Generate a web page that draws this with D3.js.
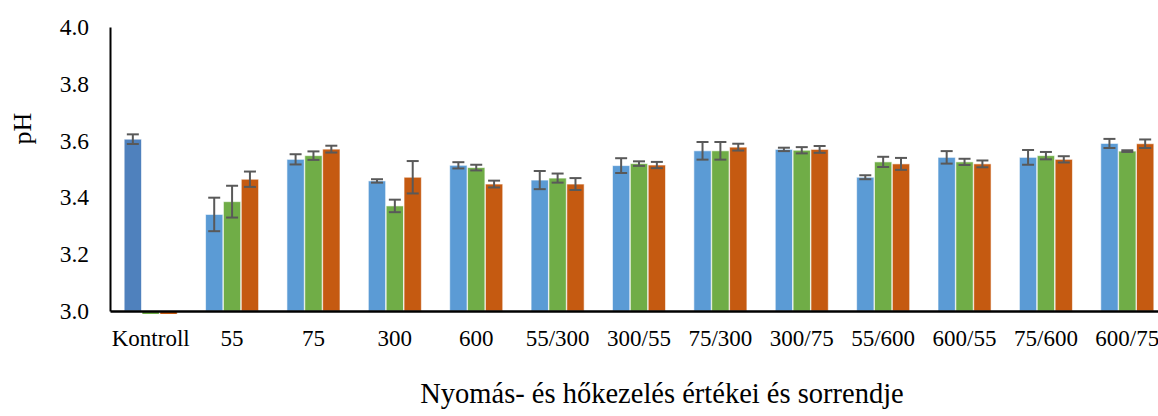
<!DOCTYPE html>
<html>
<head>
<meta charset="utf-8">
<script src="https://cdn.jsdelivr.net/npm/d3@7"></script>
<style>
  body { margin: 0; background: #fff; }
  text { font-family: "Liberation Serif", "Times New Roman", serif; fill: #000; }
</style>
</head>
<body>
<div id="chart-area"></div>
<script>
// categories and series (pH, three series + std dev)
var categories = ["Kontroll", "55", "75", "300", "600", "55/300", "300/55", "75/300", "300/75", "55/600", "600/55", "75/600", "600/75"];
var series1 = [3.605, 3.340, 3.534, 3.458, 3.513, 3.461, 3.512, 3.564, 3.569, 3.471, 3.541, 3.541, 3.590];
var series2 = [0, 3.385, 3.547, 3.370, 3.505, 3.468, 3.519, 3.564, 3.566, 3.525, 3.525, 3.547, 3.563];
var series3 = [0, 3.464, 3.570, 3.471, 3.447, 3.447, 3.514, 3.577, 3.569, 3.518, 3.518, 3.534, 3.589];
var err1 = [0.017, 0.059, 0.018, 0.006, 0.011, 0.032, 0.026, 0.031, 0.006, 0.007, 0.022, 0.026, 0.016];
var err2 = [0, 0.056, 0.015, 0.022, 0.010, 0.016, 0.008, 0.031, 0.011, 0.018, 0.011, 0.013, 0.003];
var err3 = [0, 0.027, 0.012, 0.057, 0.012, 0.021, 0.011, 0.012, 0.012, 0.021, 0.012, 0.011, 0.015];
var yTicks = [3.0, 3.2, 3.4, 3.6, 3.8, 4.0];

var colors = ["#5B9BD5", "#70AD47", "#C55A11"];
var kontrollColor = "#4F81BD";

var W = 1158, H = 416;
var margin = { left: 110, top: 27, right: -10, bottom: 105 };
var width = W - margin.left - margin.right,
    height = H - margin.top - margin.bottom;

var svg = d3.select("#chart-area").append("svg")
    .attr("width", W).attr("height", H);

var x = d3.scaleBand().domain(categories).range([0, width]).paddingInner(0.335).paddingOuter(0.1675);
var xs = d3.scaleBand().domain([0, 1, 2]).range([0, x.bandwidth()]).padding(0.03);
var y = d3.scaleLinear().domain([3.0, 4.0]).range([height, 0]);

// rows
var rows = [];
categories.forEach(function(c, i) {
    [series1, series2, series3].forEach(function(s, k) {
        rows.push({ cat: c, k: k, v: s[i], e: [err1, err2, err3][k][i] });
    });
});

svg.append("clipPath").attr("id", "clip")
  .append("rect").attr("x", margin.left).attr("y", margin.top).attr("width", width).attr("height", height + 3);

var bars = svg.append("g").attr("clip-path", "url(#clip)")
  .append("g").attr("transform", "translate(" + margin.left + "," + margin.top + ")");

bars.selectAll("rect").data(rows).join("rect")
    .attr("x", d => x(d.cat) + xs(d.k))
    .attr("width", xs.bandwidth())
    .attr("y", d => Math.min(y(d.v), y(3.0)))
    .attr("height", d => Math.abs(y(3.0) - y(d.v)))
    .attr("fill", d => (d.cat == "Kontroll" && d.k == 0) ? kontrollColor : colors[d.k])
    .attr("stroke", "#fff").attr("stroke-opacity", 0.6).attr("stroke-width", 1);

var g = svg.append("g")
    .attr("transform", "translate(" + margin.left + "," + margin.top + ")");

// error bars
var eb = g.selectAll(".eb").data(rows.filter(d => d.e > 0)).join("g").attr("class", "eb")
    .attr("stroke", "#595959").attr("stroke-width", 2);
eb.append("line")
    .attr("x1", d => x(d.cat) + xs(d.k) + xs.bandwidth() / 2)
    .attr("x2", d => x(d.cat) + xs(d.k) + xs.bandwidth() / 2)
    .attr("y1", d => y(d.v - d.e)).attr("y2", d => y(d.v + d.e));
eb.selectAll(".cap").data(d => [d.v - d.e, d.v + d.e].map(v => ({ d: d, v: v }))).join("line")
    .attr("x1", o => x(o.d.cat) + xs(o.d.k) + xs.bandwidth() / 2 - 6)
    .attr("x2", o => x(o.d.cat) + xs(o.d.k) + xs.bandwidth() / 2 + 6)
    .attr("y1", o => y(o.v)).attr("y2", o => y(o.v));

// axes
var yAxis = g.append("g").call(d3.axisLeft(y).tickValues(yTicks).tickFormat(d3.format(".1f")).tickSize(0).tickPadding(21));
yAxis.select(".domain").attr("stroke", "#000").attr("stroke-width", 2);
yAxis.selectAll("text").style("font-size", "23.5px").attr("font-family", null);

var xAxis = g.append("g").attr("transform", "translate(0," + height + ")")
    .call(d3.axisBottom(x).tickSize(0).tickPadding(19));
xAxis.select(".domain").attr("stroke", "#000").attr("stroke-width", 2.5);
xAxis.selectAll("text").style("font-size", "23px").attr("font-family", null);

// titles
svg.append("text")
    .attr("transform", "translate(31," + (margin.top + y(3.6) - 12) + ") rotate(-90)")
    .attr("text-anchor", "middle")
    .style("font-size", "26px")
    .text("pH");

svg.append("text")
    .attr("x", 662).attr("y", 403)
    .attr("text-anchor", "middle")
    .style("font-size", "28.5px")
    .text("Nyomás- és hőkezelés értékei és sorrendje");
</script>
</body>
</html>
